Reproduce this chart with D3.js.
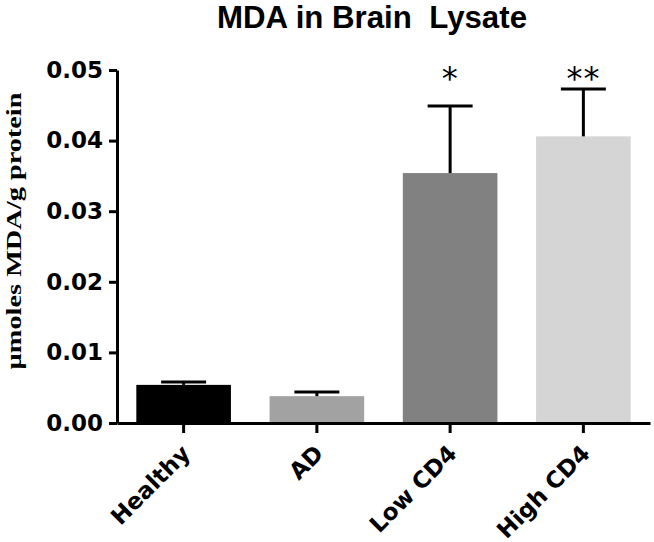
<!DOCTYPE html>
<html lang="en">
<head>
<meta charset="utf-8">
<title>MDA in Brain Lysate</title>
<script src="https://cdn.jsdelivr.net/npm/d3@7/dist/d3.min.js"></script>
<style>
  body { margin: 0; background: #fff; }
</style>
</head>
<body>
<script>
// values
var groups = ["Healthy", "AD", "Low CD4", "High CD4"];
var means = [0.0054, 0.0038, 0.0354, 0.0406];
var errors = [0.0004, 0.0006, 0.0095, 0.0067];
var marks = ["", "", "*", "**"];
var colors = ["#000000", "#a2a2a2", "#818181", "#d5d5d5"];
var yTicks = [0, 0.01, 0.02, 0.03, 0.04, 0.05];

var w = 654, h = 542;
var plotLeft = 117, plotRight = 650, plotTop = 70, plotBottom = 423;

var svg = d3.select("body").append("svg").attr("width", w).attr("height", h);

var x = d3.scaleBand().domain(groups).range([plotLeft, plotRight])
    .paddingInner(0.29).paddingOuter(0.145);
var y = d3.scaleLinear().domain([0, 0.05]).range([plotBottom, plotTop]);

// bars
svg.selectAll("rect.bar").data(groups).enter().append("rect")
    .attr("class", "bar")
    .attr("x", function(d) { return x(d); })
    .attr("y", function(d, i) { return y(means[i]); })
    .attr("width", x.bandwidth())
    .attr("height", function(d, i) { return plotBottom - y(means[i]); })
    .attr("fill", function(d, i) { return colors[i]; });

// error bars (upper only)
var cap = 45;
var eb = svg.append("g").attr("stroke", "#000").attr("stroke-width", 3);
groups.forEach(function(g, i) {
    var cx = x(g) + x.bandwidth() / 2;
    eb.append("line").attr("x1", cx).attr("x2", cx)
        .attr("y1", y(means[i])).attr("y2", y(means[i] + errors[i]));
    eb.append("line").attr("x1", cx - cap / 2).attr("x2", cx + cap / 2)
        .attr("y1", y(means[i] + errors[i])).attr("y2", y(means[i] + errors[i]));
});

// significance stars
svg.selectAll("text.star").data(groups).enter().append("text")
    .attr("class", "star")
    .attr("x", function(d) { return x(d) + x.bandwidth() / 2; })
    .attr("y", y(0.05) + 19)
    .attr("text-anchor", "middle")
    .style("font-family", "DejaVu Sans, sans-serif")
    .style("font-size", "32px")
    .style("letter-spacing", "1px")
    .text(function(d, i) { return marks[i]; });

// axes
var yaxis = d3.axisLeft(y).tickValues(yTicks).tickFormat(d3.format(".2f"))
    .tickSize(8).tickPadding(6).tickSizeOuter(0);
var xaxis = d3.axisBottom(x).tickSize(10).tickSizeOuter(0);

var gy = svg.append("g").attr("transform", "translate(" + plotLeft + ",0)").call(yaxis);
var gx = svg.append("g").attr("transform", "translate(0," + plotBottom + ")").call(xaxis);

[gx, gy].forEach(function(g) {
    g.select(".domain").attr("stroke-width", 3);
    g.selectAll(".tick line").attr("stroke-width", 3);
    g.selectAll("text")
        .style("font-family", "DejaVu Sans, sans-serif")
        .style("font-weight", "bold")
        .style("font-size", "23px")
        .attr("fill", "#000");
});

gx.selectAll(".tick text")
    .attr("text-anchor", "end")
    .attr("dy", null)
    .attr("y", null)
    .attr("transform", "translate(8,32) rotate(-45)");

// y axis label
svg.append("text")
    .attr("transform", "translate(21,231) rotate(-90)")
    .attr("text-anchor", "middle")
    .attr("textLength", 277)
    .attr("lengthAdjust", "spacingAndGlyphs")
    .style("font-family", "Liberation Serif, Times New Roman, serif")
    .style("font-weight", "bold")
    .style("font-size", "20px")
    .text("\u00b5moles MDA/g protein");

// title
svg.append("text")
    .attr("x", 217).attr("y", 28)
    .attr("textLength", 310)
    .attr("lengthAdjust", "spacingAndGlyphs")
    .style("font-family", "Liberation Sans, Arial, sans-serif")
    .style("font-weight", "bold")
    .style("font-size", "32px")
    .style("white-space", "pre")
    .text("MDA in Brain  Lysate");
</script>
</body>
</html>
